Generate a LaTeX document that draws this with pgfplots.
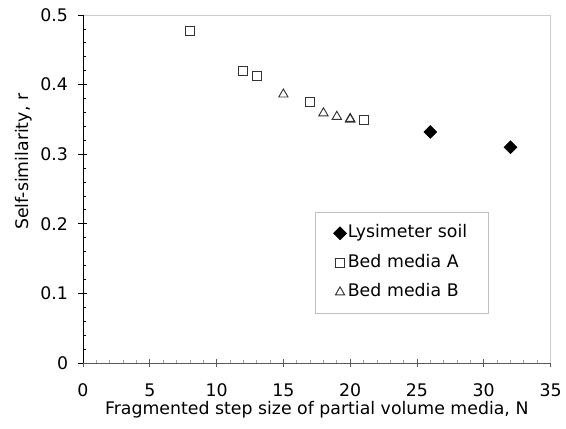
\documentclass[border=0pt]{standalone}
\usepackage{fontspec}
\setmainfont{DejaVu Sans}
\usepackage{pgfplots}
\pgfplotsset{compat=1.18}
\newcommand{\chartfont}{\fontsize{13}{15.5}\selectfont}
\begin{document}
\begin{tikzpicture}[font=\chartfont]
\begin{axis}[
  name=ax,
  scale only axis,
  width=350.6pt, height=261pt,
  xmin=0, xmax=35, ymin=0, ymax=0.5,
  clip=false,
  xtick={0,5,10,15,20,25,30,35},
  ytick={0,0.1,0.2,0.3,0.4,0.5},
  yticklabels={0,0.1,0.2,0.3,0.4,0.5},
  minor x tick num=4,
  minor y tick num=4,
  xtick pos=bottom, ytick pos=left,
  tick align=inside,
  major tick length=3pt,
  minor tick length=2.6pt,
  tick style={black, line width=0.6pt},
  minor x tick style={gray!70, line width=0.5pt},
  major x tick style={gray!70!black, line width=0.5pt},
  extra x ticks={0,5,10,15,20,25,30,35},
  extra x tick labels={},
  extra x tick style={tick align=outside, major tick length=3pt},
  extra y ticks={0,0.1,0.2,0.3,0.4,0.5},
  extra y tick labels={},
  extra y tick style={tick align=outside, major tick length=4pt},
  axis line style={draw=gray!40, line width=0.5pt},
  /pgf/number format/assume math mode=true,
  tick label style={font=\chartfont},
  yticklabel style={anchor=east, xshift=-7.7pt},
  xticklabel style={anchor=north, inner sep=0pt, yshift=-15.5pt},
  xlabel={Fragmented step size of partial volume media, N},
  ylabel={Self-similarity, r},
  every axis x label/.style={at={(axis description cs:0.5,0)}, anchor=north, inner sep=0pt, yshift=-28.2pt, font=\chartfont},
  every axis y label/.style={at={(axis description cs:-0.1272,0.578)}, anchor=center, rotate=90, font=\chartfont},
  legend image code/.code={\draw[#1] plot coordinates {(0pt,0pt)};},
  legend cell align=left,
  legend style={at={(axis cs:17.37,0.217)}, anchor=north west, draw=gray!50, line width=0.5pt,
    inner xsep=13.7pt, inner ysep=4.7pt, row sep=0pt, font=\chartfont,
    nodes={inner xsep=1pt, inner ysep=4.9pt, text height=9.5pt, text depth=2.8pt, text width=91pt, align=left}},
]
\draw[black, line width=0.7pt] (rel axis cs:0,0) -- (rel axis cs:0,1);
\draw[gray!70!black, line width=0.6pt] (rel axis cs:0,0) -- (rel axis cs:1,0);
\addplot[only marks, mark=square*, mark size=3.4pt, mark options={rotate=45, fill=black, draw=black}]
  coordinates {(26,0.332) (32,0.310)};
\addlegendentry{Lysimeter soil}
\addplot[only marks, mark=square, mark size=3.4pt, mark options={draw=black!80, line width=0.7pt}]
  coordinates {(8,0.477) (12,0.420) (13,0.412) (17,0.375) (21,0.349)};
\addlegendentry{Bed media A}
\addplot[only marks, mark=triangle, mark size=4pt, mark options={draw=black!80, line width=0.7pt}]
  coordinates {(15,0.386) (18,0.359) (19,0.354) (20,0.351) (20,0.350)};
\addlegendentry{Bed media B}
\end{axis}
\pgfresetboundingbox
\path[use as bounding box] ([xshift=-62.25pt,yshift=-48.75pt]ax.south west) rectangle ([xshift=11.6pt,yshift=11.25pt]ax.north east);
\end{tikzpicture}
\end{document}
